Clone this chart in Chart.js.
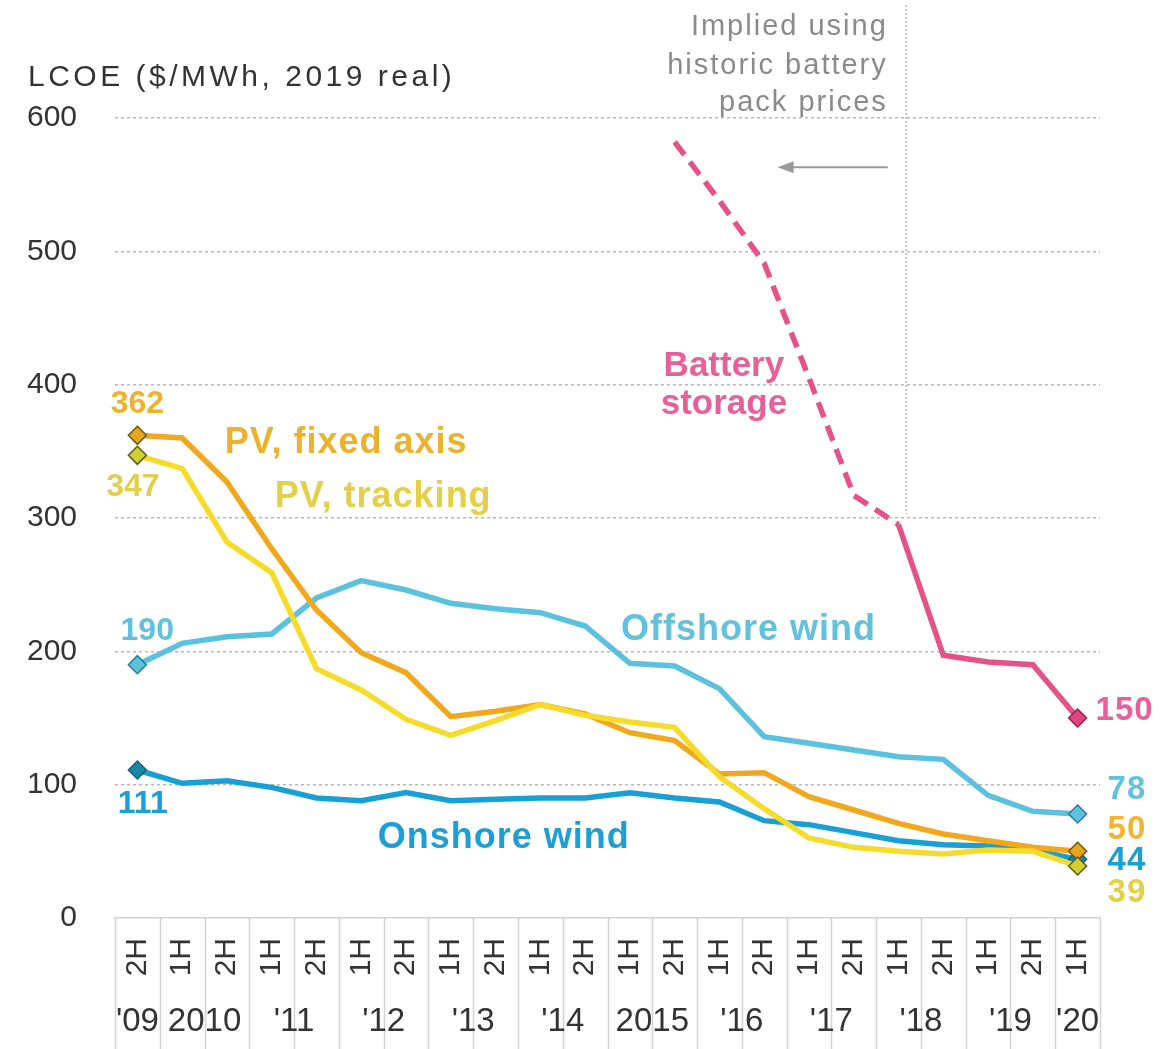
<!DOCTYPE html>
<html>
<head>
<meta charset="utf-8">
<script src="https://cdn.jsdelivr.net/npm/chart.js@4.4.1/dist/chart.umd.min.js"></script>
<style>
  html, body { margin: 0; padding: 0; background: #fff; }
  #wrap { width: 1162px; height: 1049px; position: relative; }
</style>
</head>
<body>
<div id="wrap"><canvas id="lcoe"></canvas></div>
<script>
// half-year categories, 2H 2009 .. 1H 2020
const halves = ['2H','1H','2H','1H','2H','1H','2H','1H','2H','1H','2H','1H','2H','1H','2H','1H','2H','1H','2H','1H','2H','1H'];
const years = ["'09", '2010', "'11", "'12", "'13", "'14", '2015', "'16", "'17", "'18", "'19", "'20"];
const yearAt = [0, 1.5, 3.5, 5.5, 7.5, 9.5, 11.5, 13.5, 15.5, 17.5, 19.5, 21];

const pvFixed    = [362, 360, 327, 277, 231, 199, 184, 151, 155, 160, 153, 139, 133, 108, 109, 91, 81, 71, 63, 58, 53, 50];
const pvTracking = [347, 337, 282, 259, 187, 171, 149, 137, 148, 160, 152, 147, 143, 106, 82, 60, 53, 50, 48, 51, 50, 39];
const offshore   = [190, 206, 211, 213, 240, 253, 246, 236, 232, 229, 219, 191, 189, 172, 136, 131, 126, 121, 119, 92, 80, 78];
const onshore    = [111, 101, 103, 98, 90, 88, 94, 88, 89, 90, 90, 94, 90, 87, 73, 70, 64, 58, 55, 54, 51, 44];
const battery    = [null, null, null, null, null, null, null, null, null, null, null, null,
                    582, 538, 491, 405, 317, 295, 197, 192, 190, 150];
const lastImplied = 17; // battery values up to here are implied (dashed)

const C = {
  orange: '#F2A81C', yellow: '#F5DC2A', offshore: '#5AC1DF', onshore: '#18A0D6', pink: '#E5528A'
};

const font = 'Liberation Sans, Arial, sans-serif';

// text annotations, in category index / value units
const notes = [
  { t: 'PV, fixed axis', x: 1.95, y: 356, c: '#EDB22C', bold: true, size: 36, sp: 1 },
  { t: 'PV, tracking', x: 3.07, y: 316, c: '#E2D048', bold: true, size: 36, sp: 1 },
  { t: 'Offshore wind', x: 10.8, y: 216, c: '#62C2DE', bold: true, size: 36, sp: 1 },
  { t: 'Onshore wind', x: 5.37, y: 60, c: '#1E9FD3', bold: true, size: 36, sp: 1 },
  { t: 'Battery', x: 13.1, y: 414, c: '#E8609A', bold: true, size: 35, align: 'center' },
  { t: 'storage', x: 13.1, y: 385, c: '#E8609A', bold: true, size: 35, align: 'center' },
  { t: 'Implied using', x: 16.76, y: 668, c: '#8a8a8a', size: 29, sp: 2, align: 'right' },
  { t: 'historic battery', x: 16.76, y: 639, c: '#8a8a8a', size: 29, sp: 2, align: 'right' },
  { t: 'pack prices', x: 16.76, y: 611, c: '#8a8a8a', size: 29, sp: 2, align: 'right' },
  { t: '362', x: 0, y: 385, c: '#EDB22C', bold: true, size: 32, align: 'center' },
  { t: '347', x: -0.1, y: 323, c: '#E2D048', bold: true, size: 32, align: 'center' },
  { t: '190', x: 0.22, y: 215, c: '#62C2DE', bold: true, size: 32, align: 'center' },
  { t: '111', x: 0.12, y: 85, c: '#1E9FD3', bold: true, size: 32, align: 'center' },
  { t: '150', x: 21.4, y: 155, c: '#E8609A', bold: true, size: 33, sp: 1 },
  { t: '78', x: 21.67, y: 96, c: '#62C2DE', bold: true, size: 33, sp: 1 },
  { t: '50', x: 21.67, y: 66, c: '#F2B530', bold: true, size: 33, sp: 1 },
  { t: '44', x: 21.67, y: 43, c: '#1E9FD3', bold: true, size: 33, sp: 1 },
  { t: '39', x: 21.67, y: 19, c: '#E2D048', bold: true, size: 33, sp: 1 }
];

const decor = {
  id: 'decor',
  beforeDatasetsDraw(chart) {
    const { ctx, scales: { x, y } } = chart;
    ctx.save();
    // vertical divider for implied battery prices
    const vx = x.getPixelForValue(lastImplied + 0.17);
    ctx.strokeStyle = '#b5b5b5';
    ctx.lineWidth = 1.5;
    ctx.setLineDash([2, 2]);
    ctx.beginPath();
    ctx.moveTo(vx, 5);
    ctx.lineTo(vx, y.getPixelForValue(300) - 4);
    ctx.stroke();
    ctx.restore();
  },
  afterDraw(chart) {
    const { ctx, chartArea, scales: { x, y } } = chart;
    ctx.save();
    // category cells below the axis
    ctx.strokeStyle = '#d2d2d2';
    ctx.lineWidth = 1.5;
    for (let i = 0; i <= halves.length; i++) {
      const px = Math.round(x.getPixelForValue(i - 0.5)) + 0.5;
      ctx.beginPath();
      ctx.moveTo(px, chartArea.bottom);
      ctx.lineTo(px, chart.height);
      ctx.stroke();
    }
    // year labels
    ctx.fillStyle = '#333';
    ctx.font = '33px ' + font;
    ctx.textAlign = 'center';
    ctx.textBaseline = 'middle';
    years.forEach((t, i) => ctx.fillText(t, x.getPixelForValue(yearAt[i]), chart.height - 27));
    // axis title
    ctx.textAlign = 'left';
    ctx.font = '30px ' + font;
    ctx.letterSpacing = '3.5px';
    ctx.fillText('LCOE ($/MWh, 2019 real)', 28, 78);
    ctx.letterSpacing = '0px';
    // arrow
    const ay = y.getPixelForValue(563);
    const ax0 = x.getPixelForValue(16.76), ax1 = x.getPixelForValue(14.3);
    ctx.strokeStyle = '#9a9a9a';
    ctx.fillStyle = '#9a9a9a';
    ctx.lineWidth = 2;
    ctx.beginPath();
    ctx.moveTo(ax0, ay);
    ctx.lineTo(ax1 + 12, ay);
    ctx.stroke();
    ctx.beginPath();
    ctx.moveTo(ax1, ay);
    ctx.lineTo(ax1 + 16, ay - 6);
    ctx.lineTo(ax1 + 16, ay + 6);
    ctx.closePath();
    ctx.fill();
    // text notes
    ctx.textBaseline = 'middle';
    notes.forEach(n => {
      ctx.font = (n.bold ? 'bold ' : '') + n.size + 'px ' + font;
      ctx.letterSpacing = (n.sp || 0) + 'px';
      ctx.fillStyle = n.c;
      ctx.textAlign = n.align || 'left';
      ctx.fillText(n.t, x.getPixelForValue(n.x), y.getPixelForValue(n.y));
    });
    ctx.restore();
  }
};

function ends(first) {
  return ctx => (ctx.dataIndex === halves.length - 1 || (first && ctx.dataIndex === 0)) ? 9 : 0;
}

function series(label, data, color, fill, border, first) {
  return {
    label, data,
    borderColor: color,
    borderWidth: 5.5,
    tension: 0,
    pointStyle: 'rectRot',
    pointRadius: ends(first),
    pointHoverRadius: ends(first),
    pointBackgroundColor: fill,
    pointBorderColor: border,
    pointBorderWidth: 1.5
  };
}

const bat = series('Battery storage', battery, C.pink, '#E0457F', '#9b2050', false);
bat.segment = { borderDash: ctx => ctx.p1DataIndex <= lastImplied ? [16, 9] : undefined };

new Chart(document.getElementById('lcoe'), {
  type: 'line',
  data: {
    labels: halves,
    datasets: [
      series('PV, tracking', pvTracking, C.yellow, '#D2CF34', '#5f5a1c', true),
      series('PV, fixed axis', pvFixed, C.orange, '#E8A51A', '#6b5518', true),
      bat,
      series('Onshore wind', onshore, C.onshore, '#1A86A8', '#1b5f7a', true),
      series('Offshore wind', offshore, C.offshore, '#5BC3E0', '#2a7d96', true)
    ]
  },
  options: {
    responsive: true,
    maintainAspectRatio: false,
    animation: false,
    layout: { padding: { top: 118, right: 62, left: 0, bottom: 0 } },
    plugins: { legend: { display: false }, tooltip: { enabled: false } },
    scales: {
      x: {
        offset: true,
        grid: { display: false },
        border: { display: true, color: '#d2d2d2', width: 1.5 },
        ticks: {
          autoSkip: false, minRotation: 90, maxRotation: 90, padding: 12,
          color: '#333', font: { family: font, size: 30 }
        },
        afterFit(s) { s.height = 131; }
      },
      y: {
        min: 0, max: 600,
        border: { display: false, dash: [3, 3] },
        grid: {
          drawTicks: false,
          color: c => c.tick.value === 0 ? 'rgba(0,0,0,0)' : '#b8b8b8',
          lineWidth: 1.5
        },
        ticks: {
          stepSize: 100, padding: 38, color: '#333',
          font: { family: font, size: 30 }
        },
        afterFit(s) { s.width = 115; }
      }
    }
  },
  plugins: [decor]
});
</script>
</body>
</html>
